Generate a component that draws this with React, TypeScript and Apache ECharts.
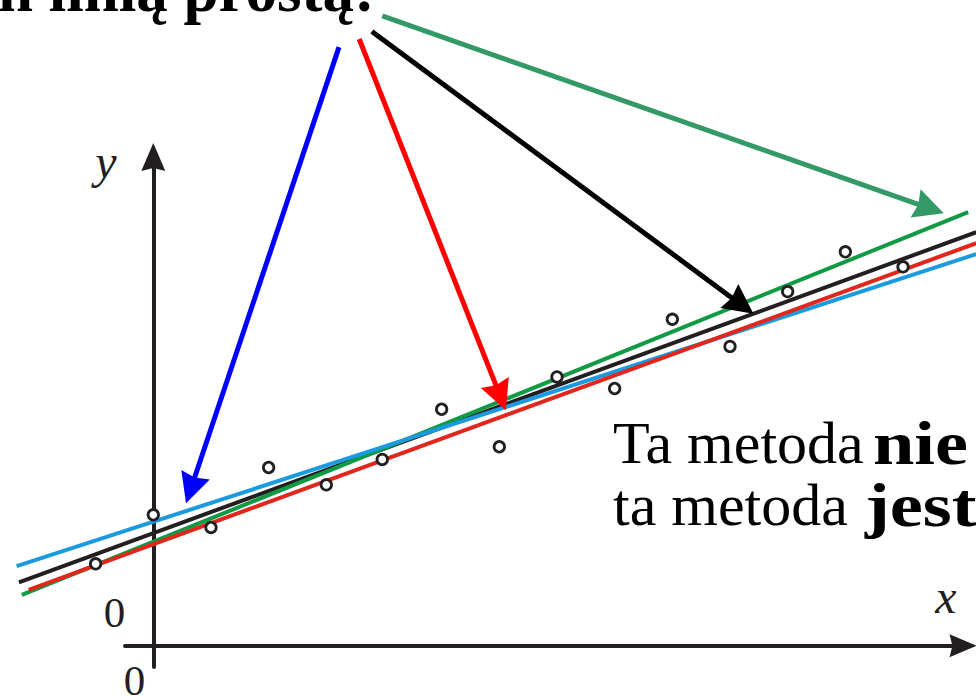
import React, { useEffect, useRef } from 'react';
import * as echarts from 'echarts';

// ---- data (in axis units) ----
const POINT_X = [-1, 0, 1, 2, 3, 3.97, 5, 6, 7, 8, 9, 10, 11, 12, 13];
const POINT_Y = [1.42, 2.27, 2.05, 3.09, 2.79, 3.23, 4.1, 3.45, 4.66, 4.46, 5.66, 5.19, 6.14, 6.83, 6.57];

const GREEN_LINE = [[-2.28, 0.88], [14.13, 7.52]];
const BLACK_LINE = [[-2.33, 1.1], [14.27, 7.17]];
const RED_LINE = [[-2.16, 0.97], [14.27, 6.98]];
const BLUE_LINE = [[-2.37, 1.38], [14.27, 6.79]];

// pointer arrows: [start, tip]
const BLUE_ARROW = [[3.22, 10.38], [0.57, 2.48]];
const RED_ARROW = [[3.57, 10.52], [6.11, 4.09]];
const BLACK_ARROW = [[3.79, 10.65], [10.4, 5.76]];
const GREEN_ARROW = [[3.97, 10.92], [13.7, 7.5]];

const TOP_TEXT = 'n linią prostą:';
const LINE1_NORMAL = 'Ta metoda';
const LINE1_BOLD = 'nie';
const LINE2_NORMAL = 'ta metoda';
const LINE2_BOLD = 'jest';
const ZERO_LABEL = '0';
const X_NAME = 'x';
const Y_NAME = 'y';

// ---- layout ----
const W = 976;
const H = 696;
const ORIGIN_X = 153.3;
const ORIGIN_Y = 645.7;
const UNIT = 57.67;
const AX_LEFT = 125;
const AX_RIGHT = 13;
const AX_TOP = 157;
const AX_BOTTOM = 29;

const AX_COLOR = '#231f20';
const FONT = '"Liberation Serif", "Times New Roman", serif';
const AXIS_ARROW = 'path://M12,0 L24,28 L12,25 L0,28 Z';
const HEAD = 'path://M15,0 L30,30 L15,27 L0,30 Z';
const HEAD_LEN_UNITS = 14.5 / UNIT;

function shorten(arrow: number[][]) {
  const [s, t] = arrow;
  const dx = t[0] - s[0];
  const dy = t[1] - s[1];
  const len = Math.sqrt(dx * dx + dy * dy);
  return [s, [t[0] - (dx / len) * HEAD_LEN_UNITS, t[1] - (dy / len) * HEAD_LEN_UNITS]];
}

export default function App() {
  const ref = useRef<HTMLDivElement>(null);
  useEffect(() => {
    document.body.style.margin = '0';
    const chart = echarts.init(ref.current!, null, { renderer: 'svg', width: W, height: H });

    const fitLine = (data: number[][], color: string, z: number) => ({
      type: 'line',
      xAxisIndex: 0,
      yAxisIndex: 0,
      data,
      symbol: 'none',
      showSymbol: false,
      silent: true,
      z,
      lineStyle: { color, width: 4 },
    });

    const arrow = (a: number[][], color: string) => ({
      coords: shorten(a),
      lineStyle: { color, width: 5, opacity: 1 },
    });

    const serifText = (text: string, x: number, y: number, size: number, extra: any = {}, scaleX = 1) => ({
      type: 'text',
      x,
      y,
      scaleX,
      z: 30,
      style: {
        text,
        fontFamily: FONT,
        fontSize: size,
        fill: '#000',
        align: 'left',
        verticalAlign: 'middle',
        ...extra,
      },
    });

    chart.setOption({
      animation: false,
      backgroundColor: '#ffffff',
      grid: [
        { left: 0, right: 0, top: 0, bottom: 0 },
        { left: AX_LEFT, right: AX_RIGHT, top: AX_TOP, bottom: AX_BOTTOM },
      ],
      xAxis: [
        { type: 'value', gridIndex: 0, min: -ORIGIN_X / UNIT, max: (W - ORIGIN_X) / UNIT, show: false },
        {
          type: 'value',
          gridIndex: 1,
          min: (AX_LEFT - ORIGIN_X) / UNIT,
          max: (W - AX_RIGHT - ORIGIN_X) / UNIT,
          axisLine: {
            show: true,
            onZero: true,
            symbol: ['none', AXIS_ARROW],
            symbolSize: [25, 27],
            lineStyle: { color: AX_COLOR, width: 4 },
          },
          axisTick: { show: false },
          axisLabel: { show: false },
          splitLine: { show: false },
        },
      ],
      yAxis: [
        { type: 'value', gridIndex: 0, min: -(H - ORIGIN_Y) / UNIT, max: ORIGIN_Y / UNIT, show: false },
        {
          type: 'value',
          gridIndex: 1,
          min: -(H - AX_BOTTOM - ORIGIN_Y) / UNIT,
          max: (ORIGIN_Y - AX_TOP) / UNIT,
          axisLine: {
            show: true,
            onZero: true,
            symbol: ['none', AXIS_ARROW],
            symbolSize: [24, 28],
            lineStyle: { color: AX_COLOR, width: 4 },
          },
          axisTick: { show: false },
          axisLabel: { show: false },
          splitLine: { show: false },
        },
      ],
      series: [
        fitLine(BLACK_LINE, '#231f20', 2),
        fitLine(GREEN_LINE, '#109a44', 3),
        fitLine(BLUE_LINE, '#1b9ae0', 4),
        fitLine(RED_LINE, '#e1261c', 5),
        {
          type: 'scatter',
          xAxisIndex: 0,
          yAxisIndex: 0,
          z: 10,
          symbol: 'circle',
          symbolSize: 10.5,
          silent: true,
          itemStyle: { color: '#ffffff', borderColor: '#231f20', borderWidth: 2.8, opacity: 1 },
          data: POINT_X.map((x, i) => [x, POINT_Y[i]]),
        },
        {
          type: 'lines',
          coordinateSystem: 'cartesian2d',
          xAxisIndex: 0,
          yAxisIndex: 0,
          z: 20,
          silent: true,
          symbol: ['none', HEAD],
          symbolSize: [30, 30],
          lineStyle: { width: 5, opacity: 1, curveness: 0 },
          data: [
            arrow(BLUE_ARROW, '#0000ff'),
            arrow(RED_ARROW, '#ff0000'),
            arrow(BLACK_ARROW, '#000000'),
            arrow(GREEN_ARROW, '#339966'),
          ],
        },
      ],
      graphic: [
        serifText(TOP_TEXT, -2, -10, 63, { fontWeight: 'bold' }),
        serifText(LINE1_NORMAL, 613, 443, 60),
        serifText(LINE1_BOLD, 873, 443, 62, { fontWeight: 'bold' }, 1.2),
        serifText(LINE2_NORMAL, 613, 505, 60),
        serifText(LINE2_BOLD, 865, 505, 62, { fontWeight: 'bold' }, 1.2),
        serifText(ZERO_LABEL, 114.5, 612.5, 43, { align: 'center', fill: AX_COLOR }),
        serifText(ZERO_LABEL, 134.5, 680, 43, { align: 'center', fill: AX_COLOR }),
        serifText(Y_NAME, 106, 161, 48, { align: 'center', fontStyle: 'italic', fill: AX_COLOR }),
        serifText(X_NAME, 946, 596, 48, { align: 'center', fontStyle: 'italic', fill: AX_COLOR }),
      ],
    });
    return () => chart.dispose();
  }, []);
  return <div ref={ref} style={{ width: W, height: H, overflow: 'hidden' }} />;
}
